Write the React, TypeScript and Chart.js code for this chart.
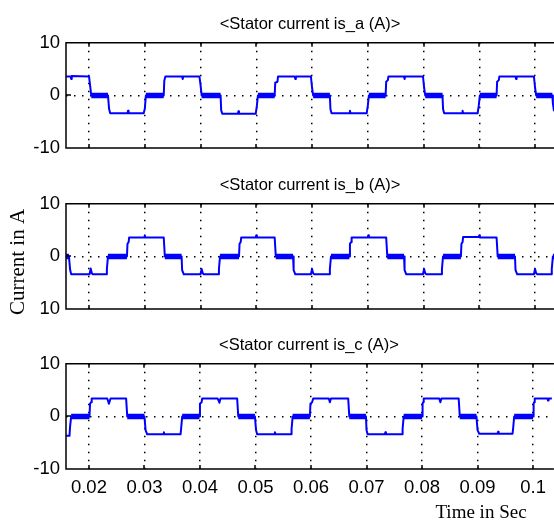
import React, { useEffect, useRef } from 'react';
import { Chart, registerables } from 'chart.js';

Chart.register(...registerables);

// ---- data ----
const xMin = 0.01587;
const xMax = 0.1034;
const xTickValues = [0.02, 0.03, 0.04, 0.05, 0.06, 0.07, 0.08, 0.09, 0.1];
const xTickLabels = ['0.02', '0.03', '0.04', '0.05', '0.06', '0.07', '0.08', '0.09', '0.1'];
const yTickValues = [-10, 0, 10];
const yTickLabelsA = ['-10', '0', '10'];
const yTickLabelsB = ['10', '0', '10'];
const yTickLabelsC = ['-10', '0', '10'];
const panelTitles = ['<Stator current is_a (A)>', '<Stator current is_b (A)>', '<Stator current is_c (A)>'];
const yAxisTitle = 'Current in A';
const xAxisTitle = 'Time in Sec';

// [time (s), current (A)]
const currentA: [number, number][] = [
  [0.0159, 3.6], [0.0167, 3.6], [0.0168, 3.1], [0.0169, 3.7], [0.0200, 3.6], [0.0202, 1.8], [0.0204, 0],
  [0.0234, 0], [0.0236, -2.6], [0.0238, -3.4], [0.0269, -3.4], [0.0270, -2.9], [0.0271, -3.4], [0.0298, -3.4], [0.0300, -2.6], [0.0302, 0],
  [0.0334, 0], [0.0335, 2.8], [0.0337, 3.6], [0.0367, 3.6], [0.0368, 3.1], [0.0369, 3.6], [0.0398, 3.6], [0.0400, 2.0], [0.0402, 0],
  [0.0436, 0], [0.0437, -2.8], [0.0439, -3.5], [0.0467, -3.5], [0.0468, -3.0], [0.0469, -3.5], [0.0499, -3.5], [0.0501, -2.0], [0.0503, 0],
  [0.0533, 0], [0.0534, 2.4], [0.0538, 2.6], [0.0539, 3.6], [0.0569, 3.6], [0.0570, 3.1], [0.0571, 3.6], [0.0598, 3.6], [0.0600, 1.5], [0.0602, 0],
  [0.0632, 0], [0.0633, -2.6], [0.0635, -3.4], [0.0667, -3.4], [0.0668, -2.9], [0.0669, -3.4], [0.0698, -3.4], [0.0700, -2.0], [0.0702, 0],
  [0.0732, 0], [0.0733, 2.6], [0.0736, 2.9], [0.0737, 3.6], [0.0765, 3.6], [0.0766, 3.1], [0.0767, 3.6], [0.0799, 3.6], [0.0801, 1.5], [0.0803, 0],
  [0.0834, 0], [0.0835, -2.6], [0.0837, -3.4], [0.0869, -3.4], [0.0870, -2.9], [0.0871, -3.4], [0.0897, -3.4], [0.0899, -2.0], [0.0901, 0],
  [0.0931, 0], [0.0932, 2.6], [0.0935, 2.9], [0.0936, 3.6], [0.0965, 3.6], [0.0966, 3.1], [0.0967, 3.6], [0.0998, 3.6], [0.1000, 1.5], [0.1002, 0],
  [0.1031, 0], [0.1032, -1.5], [0.1034, -3.0],
];

const currentB: [number, number][] = [
  [0.0159, 0], [0.0164, 0], [0.0166, -2.5], [0.0168, -3.4],
  [0.0201, -3.4], [0.0203, -2.3], [0.0205, -3.2], [0.0207, -3.4], [0.0231, -3.4], [0.0232, -2.4], [0.0234, 0],
  [0.0268, 0], [0.0269, 2.4], [0.0271, 2.7], [0.0272, 3.6], [0.0299, 3.6], [0.0300, 4.0], [0.0301, 3.6], [0.0334, 3.6], [0.0336, 0],
  [0.0366, 0], [0.0367, -2.6], [0.0370, -3.4], [0.0400, -3.4], [0.0402, -2.4], [0.0404, -3.2], [0.0406, -3.4], [0.0432, -3.4], [0.0433, -2.4], [0.0435, 0],
  [0.0469, 0], [0.0470, 2.4], [0.0472, 2.7], [0.0473, 3.6], [0.0499, 3.6], [0.0500, 4.0], [0.0501, 3.6], [0.0533, 3.6], [0.0535, 0],
  [0.0566, 0], [0.0567, -2.6], [0.0570, -3.4], [0.0598, -3.4], [0.0600, -2.4], [0.0602, -3.2], [0.0604, -3.4], [0.0631, -3.4], [0.0632, -2.4], [0.0634, 0],
  [0.0667, 0], [0.0668, 2.4], [0.0670, 2.7], [0.0671, 3.6], [0.0700, 3.6], [0.0701, 4.0], [0.0702, 3.6], [0.0733, 3.6], [0.0735, 0],
  [0.0765, 0], [0.0766, -2.6], [0.0769, -3.4], [0.0799, -3.4], [0.0801, -2.4], [0.0803, -3.2], [0.0805, -3.4], [0.0832, -3.4], [0.0833, -2.4], [0.0835, 0],
  [0.0867, 0], [0.0868, 2.4], [0.0870, 2.7], [0.0871, 3.7], [0.0899, 3.7], [0.0900, 4.0], [0.0901, 3.6], [0.0931, 3.6], [0.0933, 0],
  [0.0964, 0], [0.0965, -2.6], [0.0968, -3.4], [0.0998, -3.4], [0.1000, -2.4], [0.1002, -3.2], [0.1004, -3.4], [0.1029, -3.4], [0.1030, -2.4], [0.1032, 0],
  [0.1034, 0],
];

const currentC: [number, number][] = [
  [0.0159, -3.7], [0.0165, -3.7], [0.0166, -2.0], [0.0168, 0],
  [0.0201, 0], [0.0202, 2.4], [0.0204, 2.7], [0.0205, 3.4], [0.0233, 3.4], [0.0236, 2.4], [0.0239, 3.4], [0.0267, 3.4], [0.0269, 0],
  [0.0300, 0], [0.0302, -2.6], [0.0305, -3.4], [0.0334, -3.4], [0.0335, -3.0], [0.0336, -3.4], [0.0365, -3.4], [0.0366, -2.4], [0.0368, 0],
  [0.0399, 0], [0.0400, 2.4], [0.0403, 2.7], [0.0404, 3.4], [0.0432, 3.4], [0.0435, 2.6], [0.0437, 3.4], [0.0467, 3.4], [0.0469, 0],
  [0.0499, 0], [0.0501, -2.6], [0.0503, -3.4], [0.0534, -3.4], [0.0535, -3.0], [0.0536, -3.4], [0.0564, -3.4], [0.0565, -2.4], [0.0567, 0],
  [0.0598, 0], [0.0599, 2.4], [0.0602, 2.7], [0.0604, 3.4], [0.0632, 3.4], [0.0634, 2.7], [0.0636, 3.4], [0.0667, 3.4], [0.0669, 0],
  [0.0699, 0], [0.0700, -2.6], [0.0702, -3.4], [0.0733, -3.4], [0.0734, -3.0], [0.0735, -3.4], [0.0764, -3.4], [0.0765, -2.4], [0.0767, 0],
  [0.0800, 0], [0.0801, 2.4], [0.0802, 2.7], [0.0803, 3.4], [0.0831, 3.4], [0.0833, 2.7], [0.0835, 3.4], [0.0866, 3.4], [0.0868, 0],
  [0.0898, 0], [0.0900, -2.6], [0.0903, -3.3], [0.0936, -3.3], [0.0937, -2.9], [0.0938, -3.3], [0.0963, -3.3], [0.0964, -2.4], [0.0966, 0],
  [0.1000, 0], [0.1001, 2.4], [0.1002, 2.7], [0.1003, 3.4], [0.1026, 3.4], [0.1027, 3.0], [0.1028, 3.4], [0.1034, 3.4],
];

// ---- styling ----
const SANS = "'Liberation Sans', Arial, sans-serif";
const SERIF = "'Liberation Serif', 'Times New Roman', serif";
const BLUE = '#0000ff';

const W = 554;

const framePlugin = {
  id: 'frame',
  afterDatasetsDraw(chart: any) {
    const { ctx, chartArea: a, scales } = chart;
    ctx.save();
    ctx.strokeStyle = '#000';
    ctx.lineWidth = 1.5;
    ctx.beginPath();
    ctx.moveTo(a.right + 2, a.top);
    ctx.lineTo(a.left, a.top);
    ctx.lineTo(a.left, a.bottom);
    ctx.lineTo(a.right + 2, a.bottom);
    ctx.stroke();
    ctx.beginPath();
    const xs = scales.x;
    xs.ticks.forEach((t: any) => {
      const px = Math.round(xs.getPixelForValue(t.value));
      ctx.moveTo(px, a.top);
      ctx.lineTo(px, a.top + 4);
      ctx.moveTo(px, a.bottom);
      ctx.lineTo(px, a.bottom - 4);
    });
    const ys = scales.y;
    ys.ticks.forEach((t: any) => {
      if (t.value === 0) {
        const py = Math.round(ys.getPixelForValue(0));
        ctx.moveTo(a.left, py);
        ctx.lineTo(a.left + 5, py);
      }
    });
    ctx.stroke();
    ctx.restore();
  },
};

type Extra = { text: string; x: number; y: number; rotate: boolean; font: string };

function makeTextPlugin(extras: Extra[]) {
  return {
    id: 'extraText',
    afterDraw(chart: any) {
      const { ctx } = chart;
      extras.forEach((e) => {
        ctx.save();
        ctx.fillStyle = '#000';
        ctx.font = e.font;
        ctx.textAlign = 'center';
        ctx.textBaseline = 'middle';
        ctx.translate(e.x, e.y);
        if (e.rotate) ctx.rotate(-Math.PI / 2);
        ctx.fillText(e.text, 0, 0);
        ctx.restore();
      });
    },
  };
}

type PanelProps = {
  top: number;
  height: number;
  points: [number, number][];
  title: string;
  yLabels: string[];
  showX: boolean;
  extras: Extra[];
};

function Panel({ top, height, points, title, yLabels, showX, extras }: PanelProps) {
  const ref = useRef<HTMLCanvasElement | null>(null);
  useEffect(() => {
    if (!ref.current) return;
    const main = points.map(([t, v]) => ({ x: t, y: v }));
    const band = points.map(([t, v]) => ({ x: t, y: v === 0 ? 0 : null }));
    const chart = new Chart(ref.current, {
      type: 'line',
      data: {
        datasets: [
          {
            data: band as any,
            borderColor: BLUE,
            borderWidth: 5.5,
            pointRadius: 0,
            spanGaps: false,
            borderCapStyle: 'butt',
          },
          {
            data: main,
            borderColor: BLUE,
            borderWidth: 2,
            pointRadius: 0,
            tension: 0,
            borderJoinStyle: 'round',
          },
        ],
      },
      options: {
        animation: false,
        responsive: false,
        devicePixelRatio: 1,
        layout: { padding: { left: 0, right: 0, top: 0, bottom: 0 } },
        plugins: {
          legend: { display: false },
          tooltip: { enabled: false },
          title: {
            display: true,
            text: title,
            fullSize: false,
            color: '#000',
            font: { family: SANS, size: 16.5, weight: 'normal' },
            padding: { top: 15, bottom: 8 },
          },
        },
        scales: {
          x: {
            type: 'linear',
            min: xMin,
            max: xMax,
            afterBuildTicks: (s: any) => {
              s.ticks = xTickValues.map((v) => ({ value: v }));
            },
            afterFit: (s: any) => {
              s.height = showX ? height - 148 : 12;
            },
            ticks: {
              display: showX,
              color: '#000',
              padding: 8,
              maxRotation: 0,
              autoSkip: false,
              font: { family: SANS, size: 18.5 },
              callback: (v: any) => xTickLabels[xTickValues.indexOf(Number(v))] ?? '',
            },
            grid: {
              color: '#000',
              lineWidth: 1.5,
              drawTicks: false,
            },
            border: { display: false, dash: [1.5, 6.5] },
          },
          y: {
            min: -10,
            max: 10,
            afterBuildTicks: (s: any) => {
              s.ticks = yTickValues.map((v) => ({ value: v }));
            },
            afterFit: (s: any) => {
              s.width = 66;
            },
            ticks: {
              color: '#000',
              padding: 6,
              font: { family: SANS, size: 18.5, lineHeight: 0.4 },
              callback: (v: any) => yLabels[yTickValues.indexOf(Number(v))] ?? '',
            },
            grid: {
              color: (c: any) => (c.tick && c.tick.value === 0 ? '#000' : 'rgba(0,0,0,0)'),
              lineWidth: 1.5,
              drawTicks: false,
            },
            border: { display: false, dash: [1.5, 6.5] },
          },
        },
      },
      plugins: [framePlugin, makeTextPlugin(extras)],
    });
    return () => chart.destroy();
  }, []);
  return (
    <canvas
      ref={ref}
      width={W}
      height={height}
      style={{ position: 'absolute', left: 0, top, width: W, height }}
    />
  );
}

export default function App() {
  return (
    <div
      style={{
        position: 'absolute',
        left: 0,
        top: 0,
        width: W,
        height: 523,
        overflow: 'hidden',
        background: '#fff',
      }}
    >
      <Panel top={0} height={160} points={currentA} title={panelTitles[0]} yLabels={yTickLabelsA} showX={false} extras={[]} />
      <Panel
        top={161}
        height={160}
        points={currentB}
        title={panelTitles[1]}
        yLabels={yTickLabelsB}
        showX={false}
        extras={[{ text: yAxisTitle, x: 18.5, y: 101, rotate: true, font: `21px ${SERIF}` }]}
      />
      <Panel
        top={321}
        height={202}
        points={currentC}
        title={panelTitles[2]}
        yLabels={yTickLabelsC}
        showX={true}
        extras={[{ text: xAxisTitle, x: 481, y: 192, rotate: false, font: `19px ${SERIF}` }]}
      />
    </div>
  );
}
